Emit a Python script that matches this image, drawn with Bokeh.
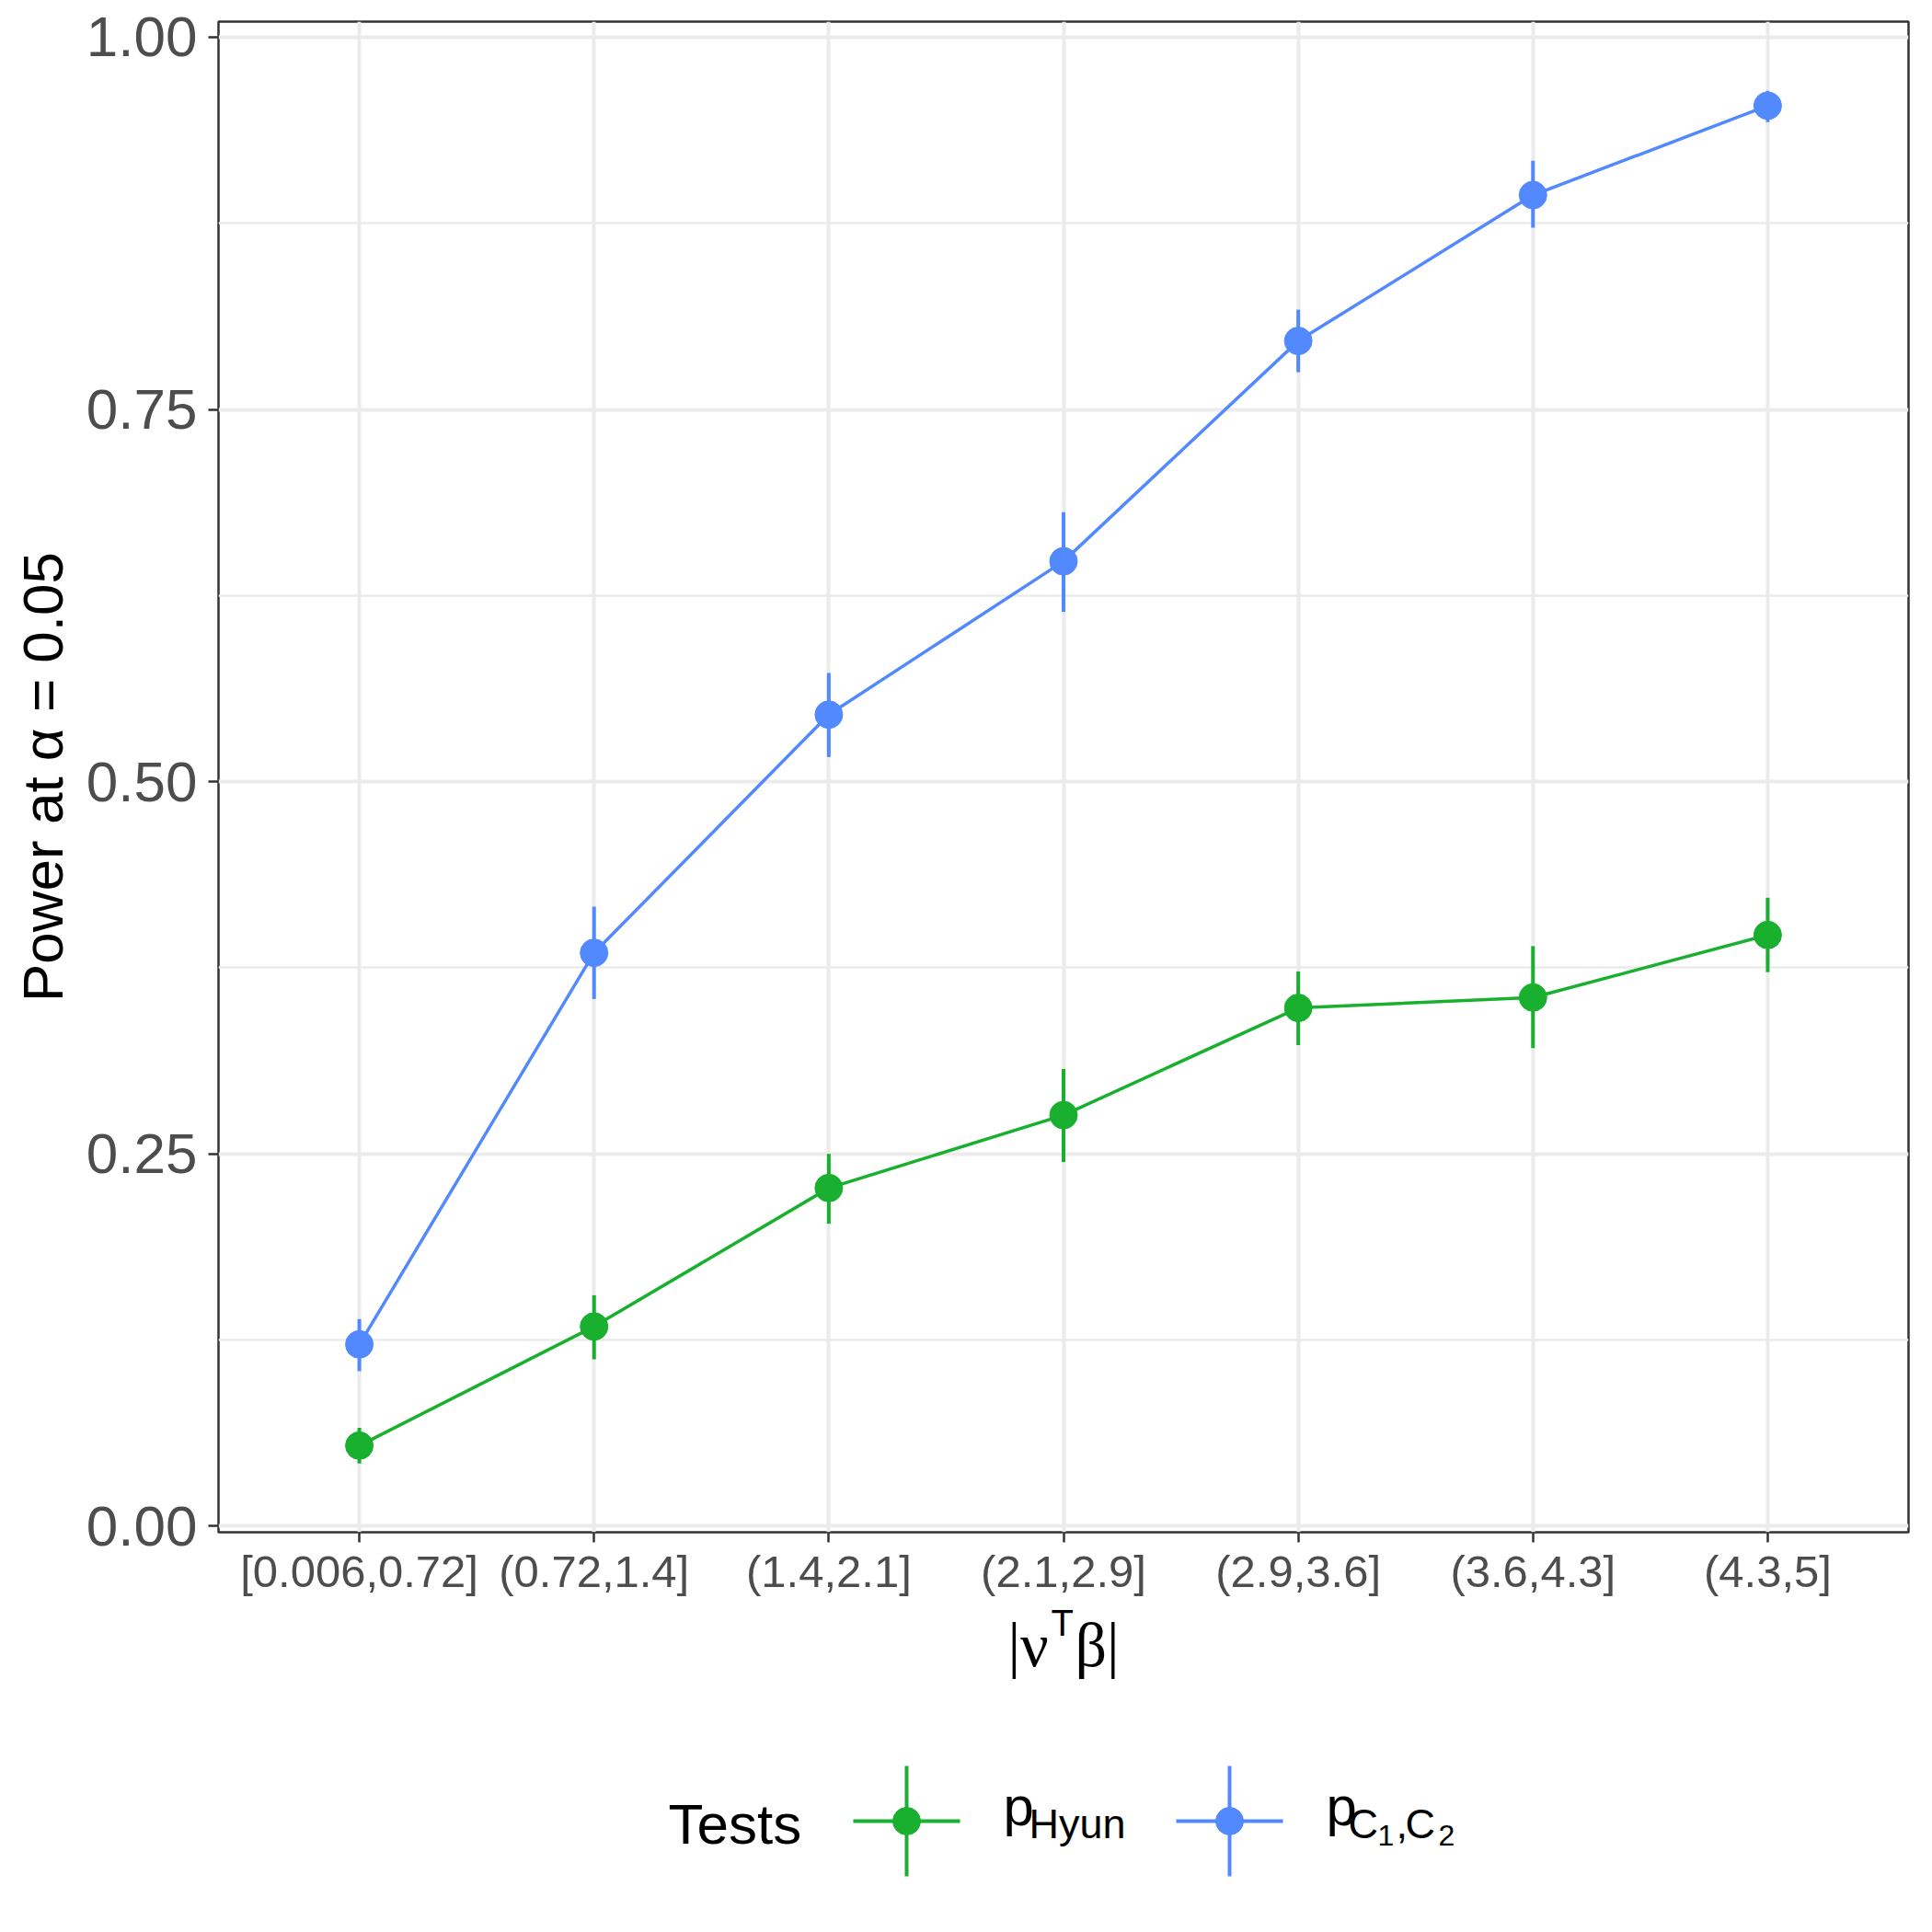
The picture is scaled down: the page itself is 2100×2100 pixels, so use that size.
from bokeh.plotting import figure
from bokeh.models import Range1d, FixedTicker, ColumnDataSource
from bokeh.layouts import column
from bokeh.core.properties import value
from bokeh.embed import file_html
from bokeh.resources import INLINE

# ---------------- data ----------------
categories = ["[0.006,0.72]", "(0.72,1.4]", "(1.4,2.1]", "(2.1,2.9]",
              "(2.9,3.6]", "(3.6,4.3]", "(4.3,5]"]
hyun_power = [0.054, 0.134, 0.227, 0.276, 0.348, 0.355, 0.397]
hyun_lower = [0.042, 0.112, 0.203, 0.2445, 0.323, 0.321, 0.372]
hyun_upper = [0.066, 0.155, 0.250, 0.307, 0.3725, 0.3895, 0.422]
c1c2_power = [0.122, 0.385, 0.545, 0.648, 0.796, 0.894, 0.954]
c1c2_lower = [0.104, 0.354, 0.5165, 0.614, 0.775, 0.872, 0.943]
c1c2_upper = [0.139, 0.416, 0.573, 0.681, 0.817, 0.917, 0.964]
y_ticks = [0.0, 0.25, 0.5, 0.75, 1.0]
y_tick_labels = ["0.00", "0.25", "0.50", "0.75", "1.00"]
y_minor = [0.125, 0.375, 0.625, 0.875]
series_colors = ["#1AB02F", "#5289FF"]

FONT = "Liberation Sans"
SERIF = "Liberation Serif"
GRID = "#EBEBEB"
DARK = "#333333"

xpos = list(range(1, len(categories) + 1))

W = 2100
BL, BR = 237, 26          # left / right borders (frame 237..2074)
H1 = 1737
FRAME_BOTTOM = 1667
H2 = 328
DY = 1745 - H1            # shift of strip-local coordinates

p = figure(width=W, height=H1, output_backend="svg", toolbar_location=None,
           x_range=Range1d(0.4, len(categories) + 0.6),
           y_range=Range1d(-0.0042, 1.0105),
           min_border_left=BL, min_border_right=BR, min_border_top=23,
           min_border_bottom=H1 - FRAME_BOTTOM)
p.background_fill_color = "white"
p.border_fill_color = "white"
p.outline_line_color = DARK
p.outline_line_width = 2.5

# axes
p.xaxis.ticker = FixedTicker(ticks=xpos)
p.xaxis.major_label_overrides = {x: c for x, c in zip(xpos, categories)}
p.yaxis.ticker = FixedTicker(ticks=y_ticks, minor_ticks=y_minor)
p.yaxis.major_label_overrides = {t: l for t, l in zip(y_ticks, y_tick_labels)}
for ax in (p.xaxis[0], p.yaxis[0]):
    ax.axis_line_color = None
    ax.major_tick_line_color = DARK
    ax.major_tick_line_width = 2.5
    ax.major_tick_in = 0
    ax.major_tick_out = 11
    ax.minor_tick_line_color = None
    ax.major_label_text_font = FONT
    ax.major_label_text_color = "#4D4D4D"
p.xaxis.major_label_text_font_size = "49px"
p.xaxis.major_label_standoff = 4
p.yaxis.major_label_text_font_size = "62px"
p.yaxis.major_label_standoff = 12
p.yaxis.axis_label = "Power at α = 0.05"
p.yaxis.axis_label_text_font = FONT
p.yaxis.axis_label_text_font_size = "62px"
p.yaxis.axis_label_text_font_style = "normal"
p.yaxis.axis_label_text_color = "black"
p.yaxis.axis_label_standoff = 10

# grid
p.xgrid.grid_line_color = GRID
p.xgrid.grid_line_width = 4
p.ygrid.grid_line_color = GRID
p.ygrid.grid_line_width = 4
p.ygrid.minor_grid_line_color = GRID
p.ygrid.minor_grid_line_width = 2.3

# data
series = [
    (hyun_power, hyun_lower, hyun_upper, series_colors[0]),
    (c1c2_power, c1c2_lower, c1c2_upper, series_colors[1]),
]
for power, lo, hi, col in series:
    src = ColumnDataSource(dict(x=xpos, y=power, lo=lo, hi=hi))
    p.line("x", "y", source=src, line_color=col, line_width=3.5)
    p.segment(x0="x", y0="lo", x1="x", y1="hi", source=src,
              line_color=col, line_width=4)
    p.scatter("x", "y", source=src, size=30, fill_color=col, line_color=col,
              line_width=1)

# ------------- strip below: x-axis title and legend (pixel coordinates) -------------
lg = figure(width=W, height=H2, output_backend="svg", toolbar_location=None,
            x_range=Range1d(BL, W - BR), y_range=Range1d(H2, 0),
            x_axis_location=None, y_axis_location=None,
            min_border_left=BL, min_border_right=BR,
            min_border_top=0, min_border_bottom=0)
lg.outline_line_color = None
lg.grid.visible = False
lg.background_fill_color = "white"
lg.border_fill_color = "white"


def txt(x, y, t, size, font=FONT):
    # y is the desired baseline; shift for the way the text box is anchored
    lg.text(x=[x], y=[y + DY - 0.33 * size], text=[t], text_font=value(font),
            text_font_size=f"{size}px", text_color="black",
            text_baseline="alphabetic", text_align="left")


# x-axis title  |ν^T β|
txt(1095, 65, "|ν", 68, SERIF)
txt(1142, 32, "T", 40)
txt(1168, 65, "β|", 68, SERIF)

# legend
txt(726, 257, "Tests", 62)
key_cx = [985, 1336]
key_cy = 234 + DY
for cx, col in zip(key_cx, series_colors):
    lg.segment(x0=[cx - 58], y0=[key_cy], x1=[cx + 58], y1=[key_cy],
               line_color=col, line_width=4)
    lg.segment(x0=[cx], y0=[key_cy - 60], x1=[cx], y1=[key_cy + 60],
               line_color=col, line_width=4)
    lg.scatter(x=[cx], y=[key_cy], size=30, fill_color=col, line_color=col)

# p_Hyun
txt(1090, 238, "p", 60)
txt(1118, 252, "Hyun", 45)
# p_{C_1,C_2}
txt(1441, 238, "p", 60)
txt(1465, 252, "C", 45)
txt(1497, 260, "1", 32)
txt(1517, 252, ",", 45)
txt(1527, 252, "C", 45)
txt(1563, 260, "2", 32)

layout = column(p, lg, spacing=0)
open("out.html", "w").write(file_html(layout, INLINE))
